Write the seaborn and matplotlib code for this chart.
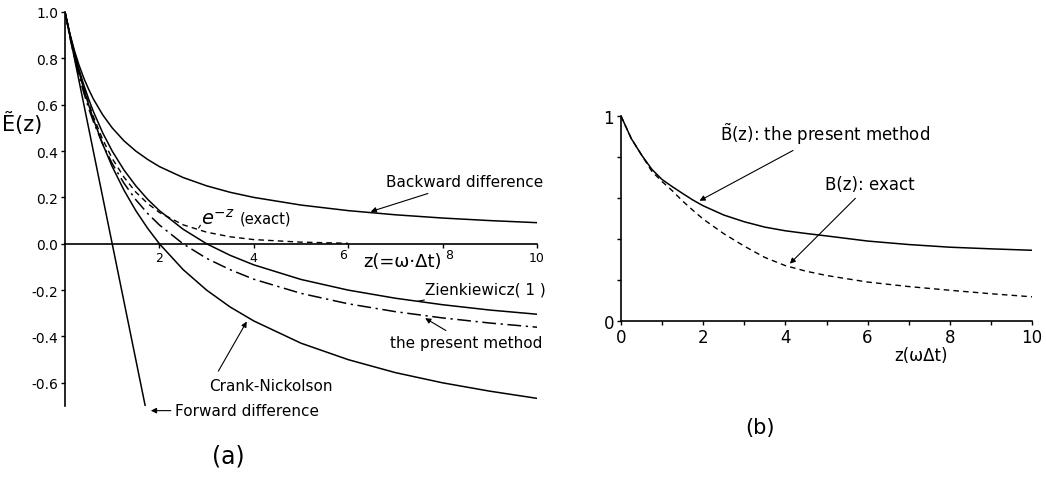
import matplotlib
matplotlib.use("Agg")
import matplotlib.pyplot as plt
import matplotlib.transforms as mtransforms
import seaborn as sns

# panel (a): amplification factor E(z)
z_a = [0, 0.1, 0.2, 0.3, 0.4, 0.5, 0.6, 0.8, 1, 1.25, 1.5, 1.75, 2, 2.5, 3, 3.5, 4, 5, 6, 7, 8, 9, 10]
backward = [1.0, 0.909, 0.833, 0.769, 0.714, 0.667, 0.625, 0.556, 0.5, 0.444, 0.4, 0.364, 0.333,
            0.286, 0.25, 0.222, 0.2, 0.167, 0.143, 0.125, 0.111, 0.1, 0.091]
crank_nicolson = [1.0, 0.905, 0.818, 0.739, 0.667, 0.6, 0.538, 0.429, 0.333, 0.231, 0.143, 0.067, 0.0,
                  -0.111, -0.2, -0.273, -0.333, -0.429, -0.5, -0.556, -0.6, -0.636, -0.667]
zienkiewicz = [1.0, 0.906, 0.824, 0.75, 0.684, 0.625, 0.571, 0.478, 0.4, 0.318, 0.25, 0.192, 0.143,
               0.063, 0.0, -0.05, -0.091, -0.154, -0.2, -0.235, -0.263, -0.286, -0.304]
present_a = [1.0, 0.894, 0.802, 0.721, 0.65, 0.585, 0.528, 0.429, 0.346, 0.261, 0.19, 0.131, 0.081,
             0.0, -0.063, -0.112, -0.153, -0.214, -0.259, -0.293, -0.32, -0.342, -0.36]

z_exact = [0, 0.1, 0.2, 0.3, 0.4, 0.5, 0.6, 0.8, 1, 1.25, 1.5, 1.75, 2, 2.5, 3, 3.5, 4, 5, 6]
exact_a = [1.0, 0.905, 0.819, 0.741, 0.67, 0.607, 0.549, 0.449, 0.368, 0.287, 0.223, 0.174, 0.135,
           0.082, 0.05, 0.03, 0.018, 0.007, 0.002]

z_forward = [0, 1.7]
forward = [1.0, -0.7]

# panel (b): B(z)
z_b = [0, 0.25, 0.5, 0.75, 1, 1.25, 1.5, 1.75, 2, 2.5, 3, 3.5, 4, 4.5, 5, 6, 7, 8, 9, 10]
b_present = [1.0, 0.89, 0.81, 0.74, 0.69, 0.655, 0.622, 0.59, 0.562, 0.517, 0.484, 0.458, 0.44, 0.427,
             0.415, 0.39, 0.373, 0.36, 0.352, 0.345]
b_exact = [1.0, 0.89, 0.81, 0.73, 0.68, 0.635, 0.585, 0.54, 0.497, 0.426, 0.365, 0.31, 0.27, 0.243,
           0.222, 0.19, 0.168, 0.15, 0.133, 0.118]

sns.set_style("ticks")
plt.rcParams["font.family"] = ["DejaVu Sans"]
plt.rcParams["mathtext.fontset"] = "dejavusans"
for key in ["text.color", "axes.labelcolor", "xtick.color", "ytick.color", "axes.edgecolor"]:
    plt.rcParams[key] = "black"

fig = plt.figure(figsize=(10.46, 4.81), dpi=100)
ax_a = fig.add_axes([65 / 1046, 1 - 407 / 481, 472 / 1046, 394 / 481])
ax_b = fig.add_axes([621 / 1046, 1 - 322 / 481, 411 / 1046, 205 / 481])

lw = 1.1
sns.lineplot(x=z_a, y=backward, ax=ax_a, color="black", lw=lw)
sns.lineplot(x=z_a, y=crank_nicolson, ax=ax_a, color="black", lw=lw)
sns.lineplot(x=z_a, y=zienkiewicz, ax=ax_a, color="black", lw=lw)
sns.lineplot(x=z_a, y=present_a, ax=ax_a, color="black", lw=lw).lines[-1].set_dashes((9, 3, 1.5, 3))
sns.lineplot(x=z_exact, y=exact_a, ax=ax_a, color="black", lw=1.0).lines[-1].set_dashes((4, 3))
sns.lineplot(x=z_forward, y=forward, ax=ax_a, color="black", lw=lw)

ax_a.set_xlim(0, 10)
ax_a.set_ylim(-0.7, 1.0)
ax_a.spines["top"].set_visible(False)
ax_a.spines["right"].set_visible(False)
ax_a.spines["bottom"].set_position(("data", 0))
for sp in ax_a.spines.values():
    sp.set_linewidth(1.2)
ax_a.set_xticks([2, 4, 6, 8, 10])
ax_a.set_xticklabels(["2", "4", "6", "8", "10"], fontsize=9)
ax_a.set_yticks([-0.6, -0.4, -0.2, 0.0, 0.2, 0.4, 0.6, 0.8, 1.0])
ax_a.set_yticklabels(["-0.6", "-0.4", "-0.2", "0.0", "0.2", "0.4", "0.6", "0.8", "1.0"], fontsize=10)
ax_a.tick_params(direction="out", length=3, width=1, pad=2)
# the 6 and 8 labels sit a little off their ticks in the original
for lab, (dx, dy) in zip(ax_a.get_xticklabels()[2:4], [(-4, 2), (5, 2)]):
    lab.set_transform(lab.get_transform() + mtransforms.ScaledTranslation(dx / 72, dy / 72, fig.dpi_scale_trans))
ax_a.set_xlabel("z(=ω·Δt)", fontsize=13)
ax_a.xaxis.set_label_coords(0.714, 0.39)
ax_a.set_ylabel("")

arrow = dict(arrowstyle="-|>", color="black", lw=0.8, mutation_scale=8)
plain = dict(arrowstyle="-", color="black", lw=0.8)
fs = 11
ax_a.annotate("Backward difference", xy=(6.42, 0.135), xytext=(6.8, 0.267),
              fontsize=fs, va="center", ha="left", arrowprops=arrow)
ax_a.annotate("", xy=(2.8, 0.058), xytext=(2.9, 0.09), arrowprops=plain)
ax_a.text(2.88, 0.085, r"$e^{-z}$", fontsize=14, va="baseline", ha="left")
ax_a.text(3.7, 0.09, "(exact)", fontsize=10.5, va="baseline", ha="left")
ax_a.annotate("Zienkiewicz( 1 )", xy=(7.42, -0.25), xytext=(7.63, -0.194),
              fontsize=fs, va="center", ha="left", arrowprops=plain)
ax_a.annotate("the present method", xy=(7.58, -0.315), xytext=(6.89, -0.427),
              fontsize=fs, va="center", ha="left", arrowprops=arrow)
ax_a.annotate("", xy=(3.88, -0.325), xytext=(3.22, -0.56), arrowprops=arrow)
ax_a.text(3.05, -0.612, "Crank-Nickolson", fontsize=fs, va="center", ha="left")
ax_a.text(2.33, -0.72, "Forward difference", fontsize=fs, va="center", ha="left")
ax_a.annotate("", xy=(1.76, -0.72), xytext=(2.3, -0.72),
              arrowprops=arrow, annotation_clip=False)

fig.text(22 / 1046, 1 - 123 / 481, "Ẽ(z)", fontsize=15, ha="center", va="center")
fig.text(228 / 1046, 1 - 457 / 481, "(a)", fontsize=17, ha="center", va="center")
fig.text(760 / 1046, 1 - 428 / 481, "(b)", fontsize=15, ha="center", va="center")

# panel (b)
sns.lineplot(x=z_b, y=b_present, ax=ax_b, color="black", lw=lw)
sns.lineplot(x=z_b, y=b_exact, ax=ax_b, color="black", lw=1.0).lines[-1].set_dashes((4, 3))
ax_b.set_xlim(0, 10)
ax_b.set_ylim(0, 1.0)
ax_b.spines["top"].set_visible(False)
ax_b.spines["right"].set_visible(False)
for sp in ax_b.spines.values():
    sp.set_linewidth(1.2)
ax_b.set_xticks([0, 2, 4, 6, 8, 10])
ax_b.set_xticks([1, 3, 5, 7, 9], minor=True)
ax_b.set_xticklabels(["0", "2", "4", "6", "8", "10"], fontsize=12)
ax_b.set_yticks([0, 1])
ax_b.set_yticks([0.2, 0.4, 0.6, 0.8], minor=True)
ax_b.set_yticklabels(["0", "1"], fontsize=12)
ax_b.tick_params(which="both", direction="out", length=3, width=1, pad=2)
ax_b.set_xlabel("z(ωΔt)", fontsize=12)
ax_b.xaxis.set_label_coords(0.73, -0.12)
ax_b.set_ylabel("")

ax_b.annotate(r"$\tilde{\mathrm{B}}$(z): the present method", xy=(1.85, 0.58), xytext=(2.41, 0.916),
              fontsize=12, va="center", ha="left", arrowprops=arrow)
ax_b.annotate("B(z): exact", xy=(4.06, 0.27), xytext=(4.96, 0.668),
              fontsize=12, va="center", ha="left", arrowprops=arrow)

fig.savefig("out.png", dpi=100)
